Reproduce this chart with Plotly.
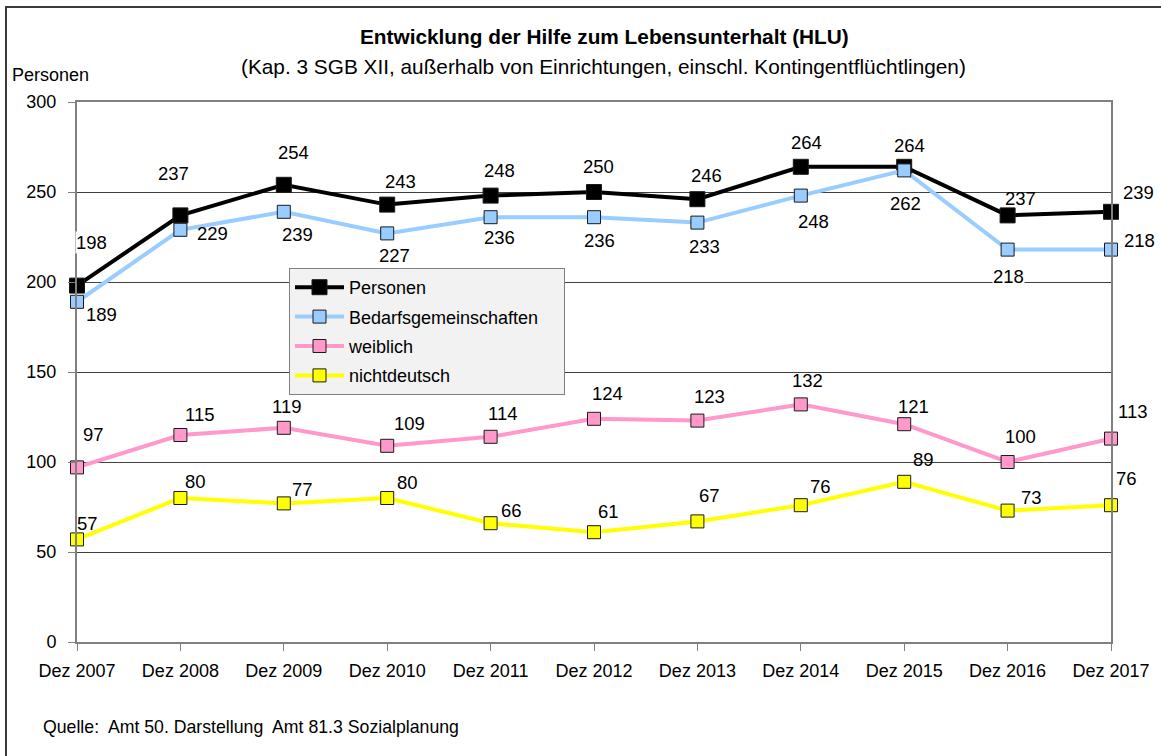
import plotly.graph_objects as go

categories = ["Dez 2007", "Dez 2008", "Dez 2009", "Dez 2010", "Dez 2011", "Dez 2012",
              "Dez 2013", "Dez 2014", "Dez 2015", "Dez 2016", "Dez 2017"]
personen = [198, 237, 254, 243, 248, 250, 246, 264, 264, 237, 239]
bedarfsgemeinschaften = [189, 229, 239, 227, 236, 236, 233, 248, 262, 218, 218]
weiblich = [97, 115, 119, 109, 114, 124, 123, 132, 121, 100, 113]
nichtdeutsch = [57, 80, 77, 80, 66, 61, 67, 76, 89, 73, 76]
y_ticks = [0, 50, 100, 150, 200, 250, 300]

title_text = "<b>Entwicklung der Hilfe zum Lebensunterhalt (HLU)</b>"
subtitle_text = "(Kap. 3 SGB XII, außerhalb von Einrichtungen, einschl. Kontingentflüchtlingen)"
y_title = "Personen"
source_text = "Quelle:  Amt 50. Darstellung  Amt 81.3 Sozialplanung"

# ---- styling (not data) ----
FONT = "Liberation Sans, Arial, sans-serif"
W, H = 1161, 756
L, R, T, B = 77, 50, 102, 114
PW, PH = W - L - R, H - T - B
LEGEND_PAD = "&nbsp;" * 4

def px_x(px):
    return (px - L) / PW

def px_y(py):
    return (H - B - py) / PH

series = [
    dict(name="Personen", y=personen, color="#000000", mcolor="#000000", msize=15, lw=4,
         dx=[14, -7, 10, 13, 9, 4, 9, 6, 5, 13, 27],
         dy=[43, 42, 32, 23, 25, 26, 24, 24, 21, 17, 19],
         bg=[True] + [False] * 10),
    dict(name="Bedarfsgemeinschaften", y=bedarfsgemeinschaften, color="#99ccff", mcolor="#99ccff", msize=13, lw=4,
         dx=[24, 32, 14, 7, 9, 5, 7, 13, 1, 1, 28],
         dy=[-13, -4, -23, -22, -20, -23, -24, -26, -33, -27, 9],
         bg=[False] * 9 + [True, False]),
    dict(name="weiblich", y=weiblich, color="#ff99cc", mcolor="#ff99cc", msize=13, lw=4,
         dx=[16, 20, 3, 22, 12, 13, 12, 7, 9, 13, 22],
         dy=[33, 21, 21, 22, 23, 25, 24, 24, 18, 26, 27],
         bg=[False] * 11),
    dict(name="nichtdeutsch", y=nichtdeutsch, color="#ffff00", mcolor="#ffff00", msize=13, lw=4,
         dx=[10, 15, 19, 20, 21, 14, 12, 20, 19, 24, 15],
         dy=[16, 17, 14, 16, 13, 21, 26, 19, 22, 13, 27],
         bg=[False] * 11),
]

fig = go.Figure()
annotations = []
for i, s in enumerate(series):
    fig.add_trace(go.Scatter(
        x=categories, y=s["y"], name=s["name"] + LEGEND_PAD, mode="lines+markers",
        line=dict(color=s["color"], width=s["lw"]),
        marker=dict(symbol="square", size=s["msize"], color=s["mcolor"],
                    line=dict(color="#1a1a1a", width=1)),
        cliponaxis=False, legendgroup=str(i),
    ))
    for c, v, dx, dy, bg in zip(categories, s["y"], s["dx"], s["dy"], s["bg"]):
        annotations.append(dict(
            x=c, y=v, xref="x", yref="y", text=str(v), showarrow=False,
            xshift=dx, yshift=dy, font=dict(family=FONT, size=18.5, color="#000"),
            bgcolor="white" if bg else None, borderpad=0,
        ))

annotations += [
    dict(x=px_x(604), y=px_y(37), xref="paper", yref="paper", text=title_text, showarrow=False,
         xanchor="center", yanchor="middle", font=dict(family=FONT, size=20.8, color="#000")),
    dict(x=px_x(603), y=px_y(66), xref="paper", yref="paper", text=subtitle_text, showarrow=False,
         xanchor="center", yanchor="middle", font=dict(family=FONT, size=20.8, color="#000")),
    dict(x=px_x(10), y=px_y(75), xref="paper", yref="paper", text=y_title, showarrow=False,
         xanchor="left", yanchor="middle", font=dict(family=FONT, size=18, color="#000")),
    dict(x=px_x(41), y=px_y(727), xref="paper", yref="paper", text=source_text, showarrow=False,
         xanchor="left", yanchor="middle", font=dict(family=FONT, size=17.7, color="#000")),
]

fig.update_layout(
    width=W, height=H,
    margin=dict(l=L, r=R, t=T, b=B, pad=0),
    paper_bgcolor="white", plot_bgcolor="white",
    font=dict(family=FONT, size=18, color="#000"),
    annotations=annotations,
    shapes=[dict(type="rect", xref="paper", yref="paper",
                 x0=px_x(6), y0=px_y(7), x1=px_x(1175), y1=px_y(770),
                 line=dict(color="#3a3a3a", width=2), fillcolor="rgba(0,0,0,0)", layer="above")],
    legend=dict(x=px_x(289), y=px_y(268), xanchor="left", yanchor="top",
                bgcolor="#f2f2f2", bordercolor="#808080", borderwidth=1,
                font=dict(family=FONT, size=18, color="#000"), tracegroupgap=3,
                itemwidth=49),
    showlegend=True,
    xaxis=dict(type="category", range=[0, 10], showgrid=False, showline=True,
               linecolor="#808080", linewidth=2, mirror=True, ticks="outside", ticklen=7,
               tickcolor="#808080", tickwidth=1, ticklabelstandoff=4,
               tickfont=dict(family=FONT, size=18, color="#000"), zeroline=False),
    yaxis=dict(range=[0, 300], tickvals=y_ticks, showgrid=True, gridcolor="#404040", gridwidth=1,
               showline=True, linecolor="#808080", linewidth=2, mirror=True, ticks="outside",
               ticklen=7, tickcolor="#808080", tickwidth=1, ticklabelstandoff=8,
               tickfont=dict(family=FONT, size=18, color="#000"), zeroline=False),
)

fig.write_html("out.html", config={"displayModeBar": False},
               post_script="document.body.style.margin='0px';document.body.style.overflow='hidden';")
